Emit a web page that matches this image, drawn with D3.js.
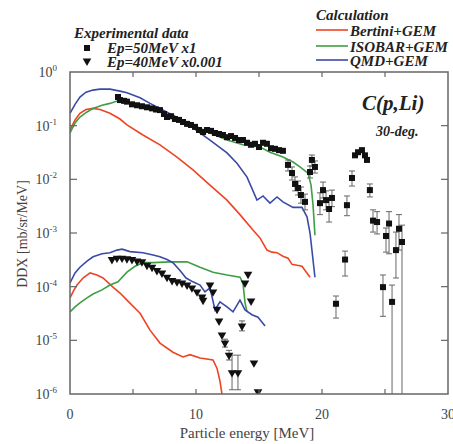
<!DOCTYPE html>
<html>
<head>
<meta charset="utf-8">
<script src="https://cdn.jsdelivr.net/npm/d3@7"></script>
<style>
  body { margin: 0; background: #fff; }
  text { font-family: "Liberation Serif", "DejaVu Serif", serif; }
</style>
</head>
<body>
<script>
// Ep=50MeV x1 (squares)
var e50 = [3.81,3.97,4.29,4.52,4.92,5.32,5.71,6.11,6.51,6.83,7.14,7.46,7.70,8.02,8.33,8.65,8.97,9.29,9.60,9.92,
  10.24,10.56,10.87,11.19,11.51,11.83,12.14,12.46,12.78,13.10,13.41,13.73,14.05,14.37,14.68,15.0,15.32,15.63,15.95,16.27,16.59,16.9,
  17.3,17.62,17.86,18.1,18.33,18.65,19.05,19.2,19.44,19.84,20.08,20.32,20.56,20.79,21.11,21.83,21.98,22.38,22.62,22.86,23.17,23.41,23.57,
  23.8,24.05,24.37,24.84,25.08,25.32,25.56,25.87,26.11,26.35];
var y50 = [0.342,0.30,0.29,0.28,0.25,0.24,0.23,0.22,0.21,0.20,0.195,0.165,0.145,0.15,0.133,0.128,0.117,0.108,0.103,0.095,
  0.083,0.076,0.083,0.08,0.073,0.07,0.067,0.061,0.064,0.059,0.054,0.054,0.048,0.044,0.046,0.040,0.048,0.046,0.038,0.037,0.035,0.034,
  0.0186,0.0131,0.0082,0.0069,0.0051,0.0038,0.0137,0.023,0.017,0.0036,0.0063,0.0041,0.0028,0.0045,4.8e-5,3.2e-4,0.0033,0.0106,0.028,0.032,0.035,0.028,0.023,
  0.0063,0.0017,0.0016,9.8e-5,8.8e-4,0.0015,5.2e-5,4.8e-4,0.0012,6.8e-4];
// error bars for the 50 MeV tail
var errE50  = [17.3,17.62,17.86,18.1,18.33,18.65,19.05,19.2,19.44,19.84,20.08,20.32,20.56,20.79,21.11,21.83,21.98,22.38,23.8,24.05,24.37,24.84,25.08,25.32,25.56,25.87,26.11,26.35];
var errLo50 = [0.0143,0.0097,0.0061,0.0051,0.0036,0.0027,0.0106,0.0177,0.0131,0.0022,0.0045,0.0027,0.0016,0.0031,2.6e-5,1.58e-4,0.0021,0.0075,0.0047,0.00104,9.6e-4,2.8e-5,4.4e-4,4.1e-4,1e-7,1.45e-4,4.8e-4,1e-7];
var errHi50 = [0.0229,0.0170,0.0111,0.0093,0.0072,0.0053,0.0177,0.0284,0.0220,0.0056,0.0089,0.0061,0.0043,0.0063,6.7e-5,4.6e-4,0.0049,0.0143,0.0082,0.0027,0.0025,1.65e-4,0.00124,0.0025,1.07e-4,0.00104,0.0022,0.0014];

// Ep=40MeV x0.001 (triangles)
var e40 = [3.33,3.73,4.13,4.52,4.92,5.32,5.71,6.11,6.51,6.90,7.30,7.70,8.10,8.49,8.89,9.29,9.68,10.08,10.48,10.56,
  11.11,11.35,11.67,11.83,12.06,12.30,12.62,12.86,13.33,13.65,13.89,14.13,14.37,14.6,14.92];
var y40 = [3.2e-4,3.4e-4,3.4e-4,3.3e-4,3.2e-4,3.0e-4,2.9e-4,2.5e-4,2.3e-4,2.0e-4,1.8e-4,1.5e-4,1.3e-4,1.23e-4,1.17e-4,1.07e-4,9.5e-5,8.0e-5,6.4e-5,5.6e-5,
  1.07e-4,8.0e-5,3.8e-5,2.3e-5,1.26e-5,8.9e-6,5.3e-6,2.5e-6,2.5e-6,1.85e-5,1.17e-4,1.7e-4,5.4e-5,3.8e-6,1.1e-6];
var errE40  = [12.30,12.62,12.86,13.33,13.65];
var errLo40 = [7.5e-6,4.3e-6,1.2e-6,1.2e-6,1.5e-5];
var errHi40 = [1.05e-5,6.5e-6,5.3e-6,5.3e-6,2.3e-5];

// calculations, upper set (50 MeV)
var bertE50 = [0,0.40,0.79,1.27,1.83,2.38,3.17,3.97,4.52,5.79,7.14,8.49,9.76,11.11,12.46,13.49,14.52,15.08,15.63,16.03,16.43,16.9,17.3,17.62,18.02,18.41,18.73,19.05];
var bertY50 = [0.083,0.128,0.17,0.20,0.21,0.20,0.17,0.133,0.103,0.067,0.044,0.026,0.015,0.0078,0.0041,0.0022,0.00114,8.1e-4,4.8e-4,4.4e-4,4.3e-4,3.7e-4,3.4e-4,2.6e-4,2.5e-4,2.4e-4,1.9e-4,1.5e-4];
var isoE50 = [0,0.40,0.79,1.35,1.83,2.54,3.17,3.81,4.52,5.56,7.14,8.41,9.76,11.11,12.46,13.73,15.08,15.87,16.9,17.7,18.25,18.89,19.13,19.29,19.44];
var isoY50 = [0.073,0.112,0.145,0.18,0.21,0.24,0.26,0.29,0.28,0.24,0.195,0.145,0.103,0.073,0.054,0.044,0.040,0.032,0.026,0.021,0.017,0.013,0.0078,0.0033,9.1e-4];
var qmdE50 = [0,0.40,0.79,1.27,1.83,2.38,3.17,3.97,4.52,5.56,6.35,7.14,8.41,9.76,11.11,12.46,13.25,14.05,14.84,15.32,15.87,16.43,16.9,17.7,18.41,18.81,19.05,19.44];
var qmdY50 = [0.17,0.25,0.34,0.42,0.46,0.48,0.48,0.44,0.41,0.33,0.26,0.21,0.145,0.091,0.054,0.031,0.020,0.011,0.0041,0.0049,0.0036,0.0047,0.0038,0.0030,0.0030,0.0020,0.0010,1.5e-4];

// calculations, lower set (40 MeV x0.001)
var bertE40 = [0,0.32,0.56,1.03,1.59,2.14,2.62,3.41,3.97,4.52,5.56,6.35,7.14,8.17,8.97,9.52,10.32,11.35,11.67,11.90,12.06,12.14];
var bertY40 = [6.2e-5,8.7e-5,1.07e-4,1.45e-4,1.8e-4,1.65e-4,1.45e-4,9.8e-5,7.6e-5,5.6e-5,3.2e-5,1.55e-5,8.9e-6,6.0e-6,4.9e-6,5.4e-6,4.7e-6,4.3e-6,3.0e-6,1.75e-6,1.0e-6,6e-7];
var isoE40 = [0,0.40,0.79,1.35,1.83,2.54,3.17,3.81,4.52,5.16,5.79,6.59,7.94,9.29,10.32,11.35,12.46,13.49,13.73,13.89,14.05];
var isoY40 = [3.4e-5,4.2e-5,5.0e-5,6.2e-5,7.3e-5,8.7e-5,1.07e-4,1.23e-4,1.86e-4,2.4e-4,2.8e-4,2.8e-4,2.9e-4,2.9e-4,2.3e-4,1.86e-4,1.65e-4,1.5e-4,1.17e-4,5.0e-5,3.4e-5];
var qmdE40 = [0,0.40,0.79,1.35,1.83,2.54,3.17,3.73,4.13,4.76,5.79,6.59,7.14,7.70,8.17,8.73,9.21,9.76,10.32,10.71,11.11,11.51,11.90,12.46,12.94,13.49,13.89,14.44,14.92,15.48];
var qmdY40 = [1.17e-4,1.8e-4,2.3e-4,3.0e-4,3.6e-4,4.1e-4,4.3e-4,4.8e-4,5.0e-4,4.5e-4,4.3e-4,3.9e-4,3.6e-4,3.2e-4,2.8e-4,2.0e-4,1.45e-4,1.23e-4,1.07e-4,8.0e-5,9.5e-5,3.7e-5,5.2e-5,4.2e-5,3.4e-5,5.6e-5,3.7e-5,3.0e-5,2.7e-5,1.85e-5];

var xTicks = [0, 10, 20, 30];
var yExp = [0, -1, -2, -3, -4, -5, -6];

var red = "#ee4422", green = "#3e9e44", blue = "#3a4aa8";

var w = 453, h = 444;
var mLeft = 70, mRight = 448, mTop = 72, mBottom = 394;

var svg = d3.select("body").append("svg")
  .attr("width", w).attr("height", h);

var x = d3.scaleLinear().domain([0, 30]).range([mLeft, mRight]);
var y = d3.scaleLog().domain([1e-6, 1]).range([mBottom, mTop]);

svg.append("clipPath").attr("id", "clip")
  .append("rect").attr("x", mLeft).attr("y", mTop).attr("width", mRight - mLeft).attr("height", mBottom - mTop);

var plot = svg.append("g").attr("clip-path", "url(#clip)");

var line = d3.line().x(function(d){ return x(d[0]); }).y(function(d){ return y(d[1]); });

function curve(es, ys, color) {
  plot.append("path")
    .datum(d3.zip(es, ys))
    .attr("d", line)
    .attr("fill", "none")
    .attr("stroke", color)
    .attr("stroke-width", 1.6);
}

curve(bertE50, bertY50, red);
curve(isoE50, isoY50, green);
curve(qmdE50, qmdY50, blue);
curve(bertE40, bertY40, red);
curve(isoE40, isoY40, green);
curve(qmdE40, qmdY40, blue);

// error bars
function errors(es, lo, hi) {
  var g = plot.append("g").attr("stroke", "#666").attr("stroke-width", 1);
  es.forEach(function(e, i){
    g.append("line").attr("x1", x(e)).attr("x2", x(e)).attr("y1", y(lo[i])).attr("y2", y(hi[i]));
    g.append("line").attr("x1", x(e) - 3).attr("x2", x(e) + 3).attr("y1", y(hi[i])).attr("y2", y(hi[i]));
    g.append("line").attr("x1", x(e) - 3).attr("x2", x(e) + 3).attr("y1", y(lo[i])).attr("y2", y(lo[i]));
  });
}
errors(errE50, errLo50, errHi50);
errors(errE40, errLo40, errHi40);

plot.selectAll(".sq")
  .data(d3.zip(e50, y50))
  .enter().append("rect")
  .attr("x", function(d){ return x(d[0]) - 3; })
  .attr("y", function(d){ return y(d[1]) - 3; })
  .attr("width", 6).attr("height", 6)
  .attr("fill", "#111");

var tri = d3.symbol().type(d3.symbolTriangle).size(32);
plot.selectAll(".tri")
  .data(d3.zip(e40, y40))
  .enter().append("path")
  .attr("d", tri)
  .attr("transform", function(d){ return "translate(" + x(d[0]) + "," + y(d[1]) + ") rotate(180)"; })
  .attr("fill", "#111");

// frame and ticks
var axisColor = "#666";
svg.append("rect")
  .attr("x", mLeft).attr("y", mTop).attr("width", mRight - mLeft).attr("height", mBottom - mTop)
  .attr("fill", "none").attr("stroke", axisColor).attr("stroke-width", 1.5);

var xt = [5, 10, 15, 20, 25];
svg.selectAll(".xtb").data(xt).enter().append("line")
  .attr("x1", function(d){ return x(d); }).attr("x2", function(d){ return x(d); })
  .attr("y1", mBottom).attr("y2", mBottom - 5)
  .attr("stroke", axisColor).attr("stroke-width", 1.2);
svg.selectAll(".xtt").data(xt).enter().append("line")
  .attr("x1", function(d){ return x(d); }).attr("x2", function(d){ return x(d); })
  .attr("y1", mTop).attr("y2", mTop + 5)
  .attr("stroke", axisColor).attr("stroke-width", 1.2);

var yt = yExp.slice(1, 6);
svg.selectAll(".ytl").data(yt).enter().append("line")
  .attr("x1", mLeft).attr("x2", mLeft + 7)
  .attr("y1", function(d){ return y(Math.pow(10, d)); }).attr("y2", function(d){ return y(Math.pow(10, d)); })
  .attr("stroke", axisColor).attr("stroke-width", 1.2);
svg.selectAll(".ytr").data(yt).enter().append("line")
  .attr("x1", mRight).attr("x2", mRight - 7)
  .attr("y1", function(d){ return y(Math.pow(10, d)); }).attr("y2", function(d){ return y(Math.pow(10, d)); })
  .attr("stroke", axisColor).attr("stroke-width", 1.2);

var labelColor = "#444";
svg.selectAll(".xl").data(xTicks).enter().append("text")
  .attr("x", function(d){ return x(d); }).attr("y", 419)
  .attr("text-anchor", "middle").attr("font-size", 14).attr("fill", labelColor)
  .text(function(d){ return d; });

var yl = svg.selectAll(".yl").data(yExp).enter().append("text")
  .attr("x", 57).attr("y", function(d){ return y(Math.pow(10, d)) + 5; })
  .attr("text-anchor", "end").attr("font-size", 14).attr("fill", labelColor);
yl.append("tspan").text("10");
yl.append("tspan").attr("dy", -6).attr("font-size", 9).text(function(d){ return d; });

svg.append("text")
  .attr("x", 247).attr("y", 438).attr("text-anchor", "middle")
  .attr("font-size", 15).attr("fill", labelColor)
  .text("Particle energy [MeV]");

svg.append("text")
  .attr("transform", "translate(27,234) rotate(-90)").attr("text-anchor", "middle")
  .attr("font-size", 14).attr("fill", labelColor)
  .text("DDX [mb/sr/MeV]");

// legends
function bi(xp, yp, s, size) {
  return svg.append("text").attr("x", xp).attr("y", yp)
    .attr("font-size", size || 14).attr("font-weight", "bold").attr("font-style", "italic")
    .attr("fill", "#222").text(s);
}
bi(74, 38, "Experimental data", 15);
svg.append("rect").attr("x", 84).attr("y", 45).attr("width", 6).attr("height", 6).attr("fill", "#111");
bi(107, 53, "Ep=50MeV x1", 15);
svg.append("path").attr("d", tri).attr("transform", "translate(87,61) rotate(180)").attr("fill", "#111");
bi(107, 67, "Ep=40MeV x0.001", 15);

bi(316, 20, "Calculation", 15);
var calc = [["Bertini+GEM", red, 30], ["ISOBAR+GEM", green, 46], ["QMD+GEM", blue, 60]];
calc.forEach(function(c){
  svg.append("line").attr("x1", 316).attr("x2", 348).attr("y1", c[2]).attr("y2", c[2])
    .attr("stroke", c[1]).attr("stroke-width", 1.6);
  bi(350, c[2] + 6, c[0], 15);
});

bi(362, 110, "C(p,Li)", 21);
bi(376, 136, "30-deg.", 14);
</script>
</body>
</html>
